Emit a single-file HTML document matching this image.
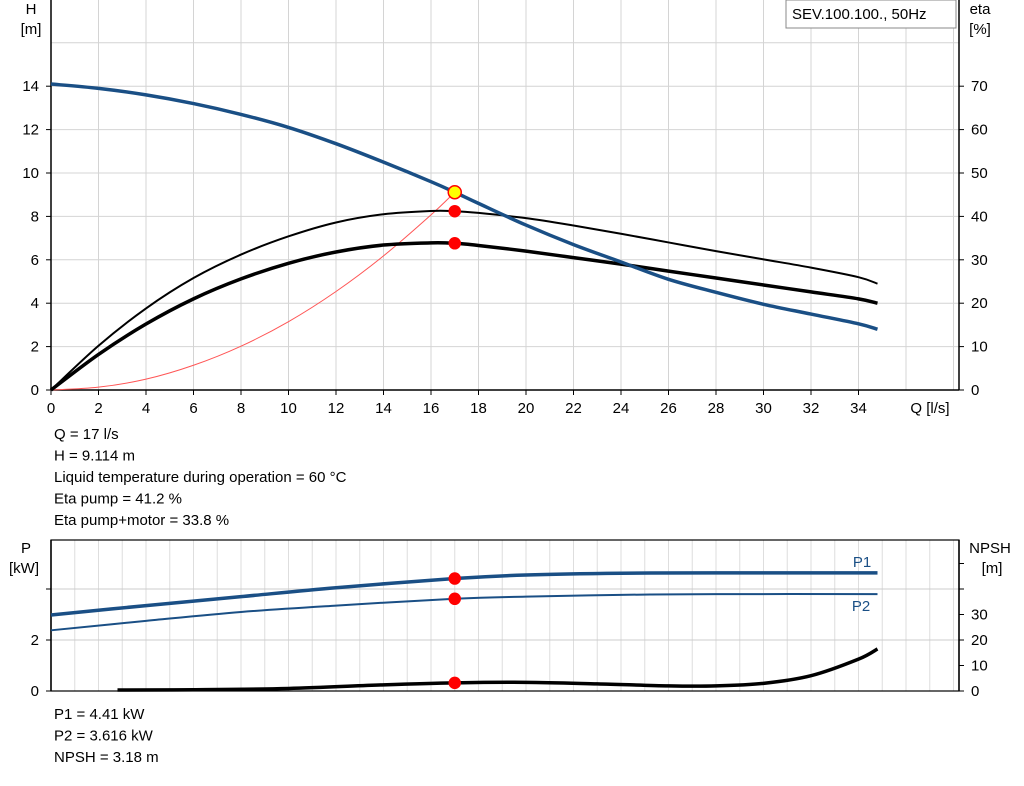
<!DOCTYPE html>
<html><head><meta charset="utf-8"><style>
body{margin:0;background:#fff;}
svg text{font-family:"Liberation Sans",sans-serif;font-size:15px;fill:#000;}
</style></head><body>
<svg id="c" width="1024" height="781" xmlns="http://www.w3.org/2000/svg"></svg>
<script>
const qTicks=[0,2,4,6,8,10,12,14,16,18,20,22,24,26,28,30,32,34];
const hTicks=[0,2,4,6,8,10,12,14];
const etaTicks=[0,10,20,30,40,50,60,70];
const hQ=[0,2,4,6,8,10,12,14,16,17,18,20,22,24,26,28,30,32,34,34.8];
const hVals=[14.1,13.9,13.6,13.2,12.7,12.1,11.35,10.5,9.6,9.114,8.6,7.6,6.7,5.9,5.1,4.5,3.95,3.5,3.05,2.8];
const etaPump=[0,10.2,18.8,25.8,31.2,35.4,38.6,40.5,41.25,41.2,40.8,39.6,37.9,36.0,34.0,32.0,30.1,28.2,26,24.5];
const etaTotal=[0,8.2,15.2,21.0,25.6,29.2,31.8,33.4,33.9,33.8,33.3,32.0,30.5,29,27.4,25.8,24.2,22.6,21,20];
const sysQ=[0,2,4,6,8,10,12,14,16,17];
const sysH=[0,0.13,0.5,1.14,2.02,3.15,4.54,6.18,8.07,9.114];
const pQ=[0,4,8,12,17,20,24,28,34.8];
const p1Vals=[2.98,3.35,3.7,4.05,4.41,4.55,4.62,4.63,4.63];
const p2Vals=[2.38,2.75,3.1,3.35,3.616,3.7,3.77,3.8,3.8];
const npshQ=[2.8,6,10,14,17,20,23,26,28,30,32,34,34.8];
const npshVals=[0.4,0.5,1.0,2.4,3.18,3.4,2.8,2.0,2.0,3.0,6.0,12.5,16.5];
const dutyQ=17, dutyH=9.114, dutyEtaP=41.2, dutyEtaT=33.8, dutyP1=4.41, dutyP2=3.616, dutyNpsh=3.18;
const pTicks=[0,2];
const npshTicks=[0,10,20,30];

const svg=document.getElementById('c');
const NS='http://www.w3.org/2000/svg';
const L=51,R=959,T1=0,B1=390,T2=540,B2=691;
const xs=q=>L+q*23.75;
const yH=h=>B1-h*21.7;
const yEta=e=>B1-e*4.34;
const yP=p=>B2-p*25.5;
const yN=n=>B2-n*2.55;
function el(tag,attrs,parent){const e=document.createElementNS(NS,tag);for(const k in attrs)e.setAttribute(k,attrs[k]);(parent||svg).appendChild(e);return e;}
function txt(x,y,s,anchor,name){const t=el('text',{x:x,y:y,'text-anchor':anchor||'start'});t.textContent=s;

return t;}
function smooth(xsA,ysA){let d='M'+xsA[0]+','+ysA[0];for(let i=0;i<xsA.length-1;i++){const x0=xsA[Math.max(i-1,0)],y0=ysA[Math.max(i-1,0)],x1=xsA[i],y1=ysA[i],x2=xsA[i+1],y2=ysA[i+1],x3=xsA[Math.min(i+2,xsA.length-1)],y3=ysA[Math.min(i+2,xsA.length-1)];
d+=' C'+(x1+(x2-x0)/6)+','+(y1+(y2-y0)/6)+' '+(x2-(x3-x1)/6)+','+(y2-(y3-y1)/6)+' '+x2+','+y2;}return d;}
function curve(qs,vs,xf,yf,stroke,w,name){const p=el('path',{d:smooth(qs.map(xf),vs.map(yf)),fill:'none',stroke:stroke,'stroke-width':w});

}
function dot(x,y,fill,name,r){const c=el('circle',{cx:x,cy:y,r:r||5.5,fill:fill,stroke:'#f00','stroke-width':1.5});

}

for(let q=2;q<=38;q+=2){const l=el('line',{x1:xs(q),x2:xs(q),y1:T1,y2:B1,stroke:'#d4d4d4'});

}
for(let h=2;h<=16;h+=2){const l=el('line',{x1:L,x2:R,y1:yH(h),y2:yH(h),stroke:'#d4d4d4'});

}
el('line',{x1:L,x2:L,y1:T1,y2:B1,stroke:'#000','stroke-width':1.5});
el('line',{x1:R,x2:R,y1:T1,y2:B1,stroke:'#000','stroke-width':1.5});
el('line',{x1:L,x2:R,y1:B1,y2:B1,stroke:'#000','stroke-width':1.5});
qTicks.forEach(q=>{el('line',{x1:xs(q),x2:xs(q),y1:B1,y2:B1+5,stroke:'#000'});txt(xs(q),B1+23,q,'middle','x-tick-label');});
hTicks.forEach(h=>{el('line',{x1:L-5,x2:L,y1:yH(h),y2:yH(h),stroke:'#000'});txt(L-12,yH(h)+5,h,'end','h-tick-label');});
etaTicks.forEach(e=>{el('line',{x1:R,x2:R+5,y1:yEta(e),y2:yEta(e),stroke:'#000'});txt(R+12,yEta(e)+5,e,'start','eta-tick-label');});
txt(31,14,'H','middle','h-axis-title');txt(31,34,'[m]','middle','h-axis-unit');
txt(980,14,'eta','middle','eta-axis-title');txt(980,34,'[%]','middle','eta-axis-unit');
txt(930,413,'Q [l/s]','middle','x-axis-title');
const lb=el('rect',{x:786,y:0,width:170,height:28,fill:'#fff',stroke:'#888'});


txt(792,19,'SEV.100.100., 50Hz','start','legend-title');

curve(sysQ,sysH,xs,yH,'#f55',1,'system-curve');
curve(hQ,etaPump,xs,yEta,'#000',2,'eta-pump-curve');
curve(hQ,etaTotal,xs,yEta,'#000',3.5,'eta-total-curve');
curve(hQ,hVals,xs,yH,'#1a4f85',3.5,'head-curve');
dot(xs(dutyQ),yH(dutyH),'#ff0','duty-point-head',6.5);
dot(xs(dutyQ),yEta(dutyEtaP),'#f00','duty-point-eta-pump');
dot(xs(dutyQ),yEta(dutyEtaT),'#f00','duty-point-eta-total');

['Q = 17 l/s','H = 9.114 m','Liquid temperature during operation = 60 °C','Eta pump = 41.2 %','Eta pump+motor = 33.8 %'].forEach((s,i)=>txt(54,439+i*21.5,s,'start','info-line'));

for(let q=1;q<=38;q++){const l=el('line',{x1:xs(q),x2:xs(q),y1:T2,y2:B2,stroke:'#dedede'});

}
[2,4].forEach(p=>el('line',{x1:L,x2:R,y1:yP(p),y2:yP(p),stroke:'#ccc'}));
el('rect',{x:L,y:T2,width:R-L,height:B2-T2,fill:'none',stroke:'#000','stroke-width':1.2});
el('line',{x1:L,x2:L,y1:T2,y2:B2,stroke:'#000','stroke-width':1.5});
el('line',{x1:R,x2:R,y1:T2,y2:B2,stroke:'#000','stroke-width':1.5});
[0,2,4].forEach(p=>el('line',{x1:L-5,x2:L,y1:yP(p),y2:yP(p),stroke:'#000'}));
pTicks.forEach(p=>txt(L-12,yP(p)+5,p,'end','p-tick-label'));
[0,10,20,30,40,50].forEach(n=>el('line',{x1:R,x2:R+5,y1:yN(n),y2:yN(n),stroke:'#000'}));
npshTicks.forEach(n=>txt(R+12,yN(n)+5,n,'start','npsh-tick-label'));
txt(26,553,'P','middle','p-axis-title');txt(24,573,'[kW]','middle','p-axis-unit');
txt(990,553,'NPSH','middle','npsh-axis-title');txt(992,573,'[m]','middle','npsh-axis-unit');
curve(pQ,p1Vals,xs,yP,'#1a4f85',3.5,'p1-curve');
curve(pQ,p2Vals,xs,yP,'#1a4f85',2,'p2-curve');
curve(npshQ,npshVals,xs,yN,'#000',3.5,'npsh-curve');
const t1=txt(862,567,'P1','middle','p1-label');t1.style.fill='#1a4f85';
const t2=txt(861,611,'P2','middle','p2-label');t2.style.fill='#1a4f85';
dot(xs(dutyQ),yP(dutyP1),'#f00','duty-point-p1');
dot(xs(dutyQ),yP(dutyP2),'#f00','duty-point-p2');
dot(xs(dutyQ),yN(dutyNpsh),'#f00','duty-point-npsh');
['P1 = 4.41 kW','P2 = 3.616 kW','NPSH = 3.18 m'].forEach((s,i)=>txt(54,719+i*21.5,s,'start','info-line-bottom'));
</script>
</body></html>
